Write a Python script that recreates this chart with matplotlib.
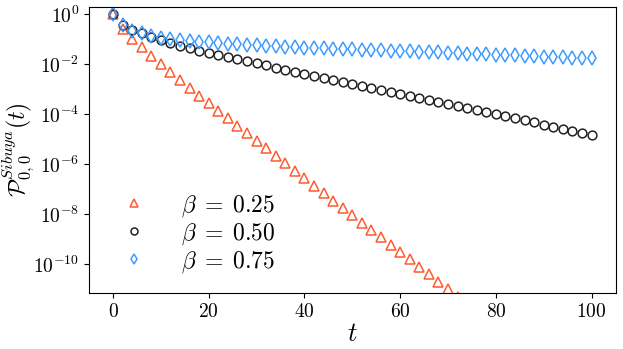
import numpy as np
import matplotlib
matplotlib.use("Agg")
import matplotlib.pyplot as plt

plt.rcParams['font.family'] = 'serif'
plt.rcParams['font.serif'] = ['cmr10']
plt.rcParams['mathtext.fontset'] = 'cm'
plt.rcParams['axes.formatter.use_mathtext'] = True

# log10 of P(t), t = 0, 2, 4, ...
t_tri = np.arange(0, 74, 2)
log_tri = [0.0, -0.61, -1.00, -1.33, -1.68, -2.01, -2.33, -2.64, -2.95, -3.27,
           -3.57, -3.87, -4.17, -4.48, -4.77, -5.08, -5.37, -5.68, -5.95, -6.27,
           -6.57, -6.88, -7.17, -7.47, -7.77, -8.04, -8.35, -8.64, -8.93, -9.24,
           -9.51, -9.80, -10.11, -10.40, -10.70, -11.00, -11.30]

t_all = np.arange(0, 102, 2)
log_circ = [0.0, -0.43, -0.64, -0.76, -0.91, -1.03, -1.15, -1.27, -1.37, -1.47,
            -1.55, -1.64, -1.73, -1.81, -1.88, -1.97, -2.05, -2.15, -2.24, -2.32,
            -2.40, -2.48, -2.56, -2.64, -2.72, -2.80, -2.88, -2.96, -3.04, -3.12,
            -3.20, -3.28, -3.36, -3.44, -3.52, -3.60, -3.68, -3.76, -3.84, -3.92,
            -4.00, -4.08, -4.16, -4.24, -4.32, -4.42, -4.50, -4.58, -4.66, -4.74,
            -4.82]
log_diam = [0.0, -0.45, -0.67, -0.77, -0.88, -0.95, -1.00, -1.04, -1.07, -1.10,
            -1.13, -1.16, -1.18, -1.21, -1.23, -1.25, -1.27, -1.29, -1.31, -1.33,
            -1.34, -1.36, -1.37, -1.39, -1.40, -1.41, -1.42, -1.43, -1.44, -1.46,
            -1.47, -1.49, -1.50, -1.52, -1.53, -1.55, -1.56, -1.58, -1.59, -1.61,
            -1.62, -1.64, -1.65, -1.67, -1.68, -1.70, -1.71, -1.73, -1.74, -1.76,
            -1.77]

labels = [r'$\beta\;=\;0.25$', r'$\beta\;=\;0.50$', r'$\beta\;=\;0.75$']

fig = plt.figure(figsize=(6.23, 3.49), dpi=100)
ax = fig.add_axes([0.143, 0.16, 0.845, 0.82])

ax.plot(t_tri, 10**np.array(log_tri), '^', ms=7, mfc='none', mec='#ff5a2e', mew=1.1, ls='none', label=labels[0])
ax.plot(t_all, 10**np.array(log_circ), 'o', ms=6.3, mfc='none', mec='#222222', mew=1.1, ls='none', label=labels[1])
ax.plot(t_all, 10**np.array(log_diam), 'd', ms=7, mfc='none', mec='#3d9bff', mew=1.1, ls='none', label=labels[2])

ax.set_yscale('log')
ax.set_xlim(-5, 105)
ax.set_ylim(10**-11.16, 10**0.28)
ax.set_yticks([1e0, 1e-2, 1e-4, 1e-6, 1e-8, 1e-10])
ax.yaxis.set_minor_locator(matplotlib.ticker.NullLocator())
ax.tick_params(labelsize=14)
ax.set_xlabel(r'$t$', fontsize=19, labelpad=1)
ax.set_ylabel(r'$\mathcal{P}^{Sibuya}_{0,0}(t)$', fontsize=17)
ax.yaxis.set_label_coords(-0.098, 0.5)

ax.legend(loc='lower left', bbox_to_anchor=(0.0, -0.01), frameon=False, fontsize=17,
          markerscale=0.8, handletextpad=1.0, labelspacing=0.1)

fig.savefig('out.png', dpi=100)
